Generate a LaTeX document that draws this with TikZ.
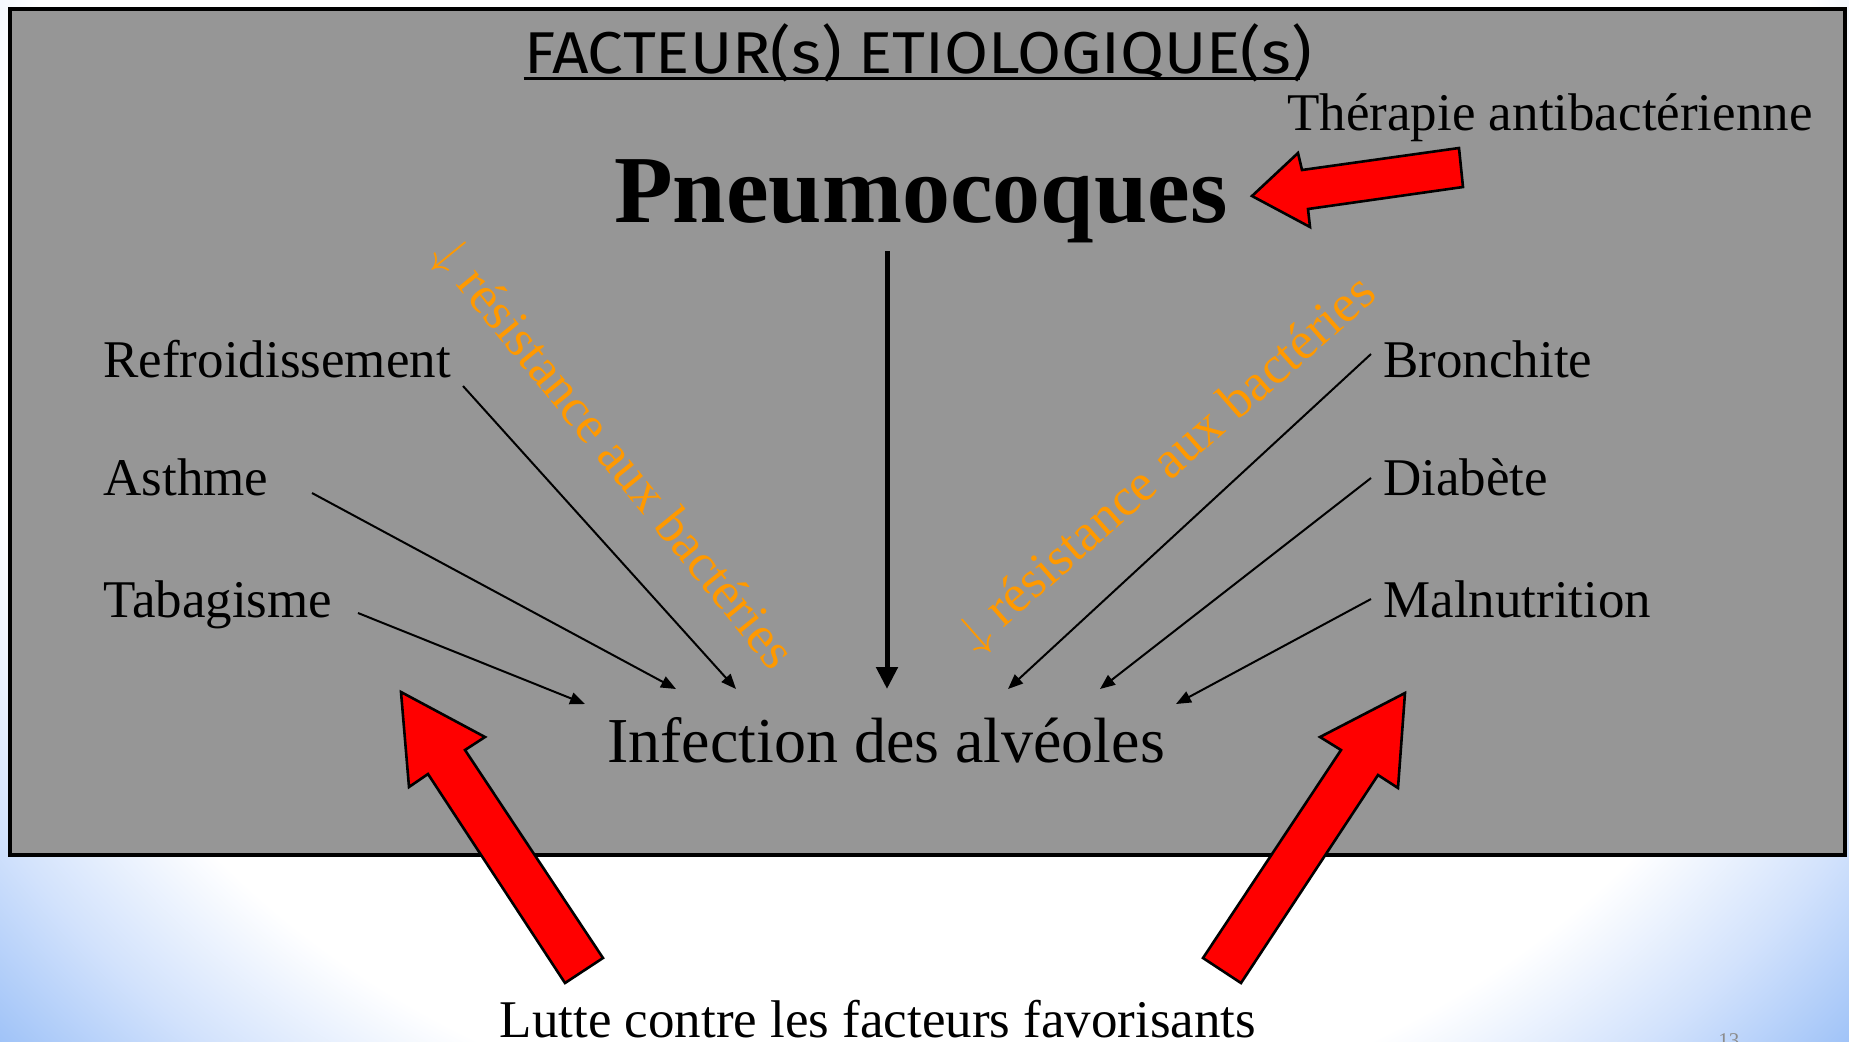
\documentclass[tikz,border=0pt]{standalone}
\usepackage{fontspec}
\setmainfont{Liberation Serif}
\newfontfamily\titlefont[FakeStretch=1.08]{Fira Sans}
\usetikzlibrary{arrows.meta}
\definecolor{boxgray}{RGB}{150,150,150}
\definecolor{orng}{RGB}{255,153,0}
\definecolor{bgblue}{RGB}{155,192,247}
\definecolor{bgblue2}{RGB}{210,226,252}
\definecolor{pagegray}{RGB}{140,140,140}
\pgfdeclareradialshading{bgshade}{\pgfpoint{0bp}{0bp}}{color(0bp)=(white); color(21bp)=(white); color(24.5bp)=(bgblue2); color(28bp)=(bgblue); color(50bp)=(bgblue)}
\begin{document}
\begin{tikzpicture}[x=0.5pt,y=-0.5pt,
  lbl/.style={inner sep=0pt, anchor=base west, font=\fontsize{26.5}{30}\selectfont},
  conn/.style={line width=1pt, -{Triangle[length=7.5pt,width=6pt]}},
  mainconn/.style={line width=2.5pt, -{Triangle[length=11pt,width=10.5pt]}},
  redarrow/.style={fill=red, draw=black, line width=1.3pt, line join=miter},
  orangetxt/.style={inner sep=0pt, text=orng, font=\fontsize{26.5}{30}\selectfont}]

\useasboundingbox (0,0) rectangle (1849,1041);
\begin{scope}
\clip (0,0) rectangle (1849,1041);
\shade[shading=bgshade] (-200,-700) rectangle (2049,1300);
\node[anchor=base west, inner sep=0pt, text=pagegray, font=\fontsize{10.5}{12}\selectfont] (pg) at (1718,1047) {13};
\end{scope}

% main gray box
\draw[fill=boxgray, line width=2pt] (10,9) rectangle (1845,855);

% title
\node[inner sep=0pt, anchor=base, font=\titlefont\fontsize{29.5}{32}\selectfont] (title) at (918,73) {FACTEUR(s) ETIOLOGIQUE(s)};
\draw[line width=1.5pt] ([yshift=-2.5pt]title.base west) -- ([yshift=-2.5pt,xshift=-6pt]title.base east);

% main texts
\node[inner sep=0pt, anchor=base, font=\bfseries\fontsize{48}{52}\selectfont] (pneumo) at (921,222) {Pneumocoques};
\node[inner sep=0pt, anchor=base, font=\fontsize{26.5}{30}\selectfont] (thera) at (1550,130) {Thérapie antibactérienne};
\node[inner sep=0pt, anchor=base, font=\fontsize{32}{36}\selectfont] (infect) at (886,762) {Infection des alvéoles};
\node[inner sep=0pt, anchor=base, font=\fontsize{26.5}{30}\selectfont] (lutte) at (878,1037) {Lutte contre les facteurs favorisants};

% factors
\node[lbl] (refr) at (103,377) {Refroidissement};
\node[lbl] (asth) at (103,495) {Asthme};
\node[lbl] (taba) at (103,617) {Tabagisme};
\node[lbl] (bron) at (1383,377) {Bronchite};
\node[lbl] (diab) at (1383,495) {Diabète};
\node[lbl] (maln) at (1383,617) {Malnutrition};

% orange rotated labels
\node[orangetxt, rotate=-50.8] (resL) at (612,455) {$\downarrow$ résistance aux bactéries};
\node[orangetxt, rotate=41.4] (resR) at (1168,465) {$\downarrow$ résistance aux bactéries};

% connector end points
\coordinate (refrS) at (463,386);  \coordinate (refrE) at (736,689);
\coordinate (asthS) at (312,493);  \coordinate (asthE) at (676,689);
\coordinate (tabaS) at (358,613);  \coordinate (tabaE) at (585,704);
\coordinate (bronS) at (1371,354); \coordinate (bronE) at (1008,689);
\coordinate (diabS) at (1371,478); \coordinate (diabE) at (1100,689);
\coordinate (malnS) at (1371,599); \coordinate (malnE) at (1176,704);
\coordinate (pneuS) at (887,251);  \coordinate (pneuE) at (887,689);

\draw[conn] (refrS) -- (refrE);
\draw[conn] (asthS) -- (asthE);
\draw[conn] (tabaS) -- (tabaE);
\draw[conn] (bronS) -- (bronE);
\draw[conn] (diabS) -- (diabE);
\draw[conn] (malnS) -- (malnE);
\draw[mainconn] (pneuS) -- (pneuE);

% red block arrows
\draw[redarrow] (1252,196) -- (1298,153) -- (1302,170) -- (1459,148) -- (1463,187) -- (1308,209) -- (1310,227) -- cycle;
\draw[redarrow] (401,692) -- (485,737) -- (465,750) -- (603,958) -- (565,983) -- (428,774) -- (409,787) -- cycle;
\draw[redarrow] (1405,693) -- (1320,737) -- (1341,750) -- (1203,958) -- (1241,983) -- (1378,775) -- (1398,788) -- cycle;
\end{tikzpicture}
\end{document}
